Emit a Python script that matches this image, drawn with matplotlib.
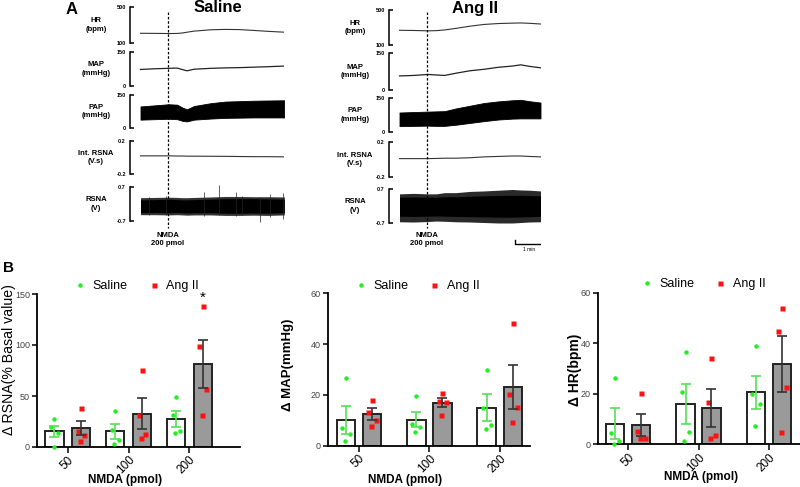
import matplotlib
matplotlib.use('Agg')
import matplotlib.pyplot as plt
from matplotlib.lines import Line2D

plt.rcParams['font.family'] = ['Liberation Sans', 'DejaVu Sans']

sal_t = [0, 0.5, 1.0, 1.3, 1.5, 1.65, 1.9, 2.5, 3.0, 3.5, 4.0, 4.5, 5.1]
sal_hr = [208, 207, 205, 206, 212, 220, 232, 247, 251, 249, 240, 230, 220]
sal_map = [73, 76, 78, 79, 72, 67, 74, 78, 80, 81, 83, 85, 88]
sal_pap_hi = [98, 103, 108, 106, 92, 85, 100, 113, 120, 122, 124, 125, 126]
sal_pap_lo = [38, 40, 42, 40, 32, 30, 38, 43, 46, 47, 48, 48, 48]
sal_int = [0.02, 0.02, 0.02, 0.018, 0.018, 0.016, 0.016, 0.015, 0.014, 0.012, 0.01, 0.01, 0.008]
sal_rsna_hi = [0.17, 0.18, 0.2, 0.18, 0.17, 0.17, 0.18, 0.2, 0.22, 0.22, 0.22, 0.21, 0.2]
sal_rsna_lo = [-0.36, -0.35, -0.36, -0.35, -0.36, -0.37, -0.36, -0.36, -0.38, -0.38, -0.37, -0.38, -0.36]
sal_rsna_out_hi = [0.26, 0.27, 0.28, 0.27, 0.26, 0.26, 0.27, 0.29, 0.31, 0.31, 0.3, 0.3, 0.29]
sal_rsna_out_lo = [-0.44, -0.44, -0.45, -0.44, -0.45, -0.46, -0.45, -0.45, -0.47, -0.47, -0.46, -0.47, -0.45]
sal_spike_t = [0.3, 0.9, 2.25, 2.8, 3.4, 3.6, 4.25, 4.6, 5.05]
sal_spike_top = [0.3, 0.32, 0.5, 0.78, 0.5, 0.35, 0.3, 0.4, 0.45]
sal_spike_bot = [-0.45, -0.45, -0.5, -0.45, -0.5, -0.45, -0.73, -0.55, -0.6]

ang_t = [0, 0.5, 1.0, 1.3, 1.6, 2.0, 2.5, 3.0, 3.5, 4.0, 4.3, 4.6, 5.0]
ang_hr = [268, 266, 262, 264, 272, 290, 315, 335, 345, 350, 352, 348, 340]
ang_map = [57, 59, 63, 61, 59, 68, 78, 84, 92, 97, 102, 96, 90]
ang_pap_hi = [86, 88, 90, 91, 92, 104, 116, 128, 135, 140, 142, 136, 130]
ang_pap_lo = [26, 27, 28, 27, 27, 32, 40, 48, 55, 59, 60, 60, 60]
ang_int = [0.01, 0.01, 0.01, 0.012, 0.015, 0.015, 0.02, 0.03, 0.035, 0.04, 0.04, 0.035, 0.03]
ang_rsna_hi = [0.36, 0.37, 0.36, 0.36, 0.38, 0.38, 0.4, 0.42, 0.43, 0.44, 0.44, 0.43, 0.42]
ang_rsna_lo = [-0.42, -0.43, -0.42, -0.41, -0.42, -0.43, -0.44, -0.45, -0.46, -0.46, -0.45, -0.44, -0.43]
ang_rsna_out_hi = [0.5, 0.52, 0.5, 0.5, 0.55, 0.55, 0.6, 0.62, 0.65, 0.68, 0.66, 0.65, 0.62]
ang_rsna_out_lo = [-0.65, -0.66, -0.64, -0.62, -0.63, -0.65, -0.66, -0.68, -0.7, -0.7, -0.68, -0.66, -0.65]

nmda_t = 0.96
channel_names = ['HR\n(bpm)', 'MAP\n(mmHg)', 'PAP\n(mmHg)', 'Int. RSNA\n(V.s)', 'RSNA\n(V)']
channel_lims = [(100, 500), (0, 150), (0, 150), (-0.2, 0.2), (-0.7, 0.7)]
channel_ticks = [('100', '500'), ('0', '150'), ('0', '150'), ('-0.2', '0.2'), ('-0.7', '0.7')]

# ---- panel B: group data ----
doses = ['50', '100', '200']

rsna_sal_mean = [15.2, 15.5, 27.7]
rsna_sal_sem = [5.8, 7.3, 8.0]
rsna_sal_pts = [[27.4, 19.8, 13.5, 0.3], [35.6, 16.5, 6.6, 3.0], [49.0, 31.7, 15.5, 13.5]]
rsna_ang_mean = [18.5, 32.6, 81.4]
rsna_ang_sem = [6.7, 15.2, 23.6]
rsna_ang_pts = [[38.0, 15.8, 12.2, 6.3], [75.8, 31.7, 13.2, 9.2], [138.0, 99.0, 56.4, 31.5]]

map_sal_mean = [10.0, 10.2, 15.0]
map_sal_sem = [5.5, 3.0, 5.3]
map_sal_pts = [[26.5, 6.8, 4.5, 1.8], [19.6, 8.5, 7.3, 5.5], [29.8, 14.8, 8.0, 6.4]]
map_ang_mean = [12.5, 17.0, 23.2]
map_ang_sem = [2.2, 1.6, 8.6]
map_ang_pts = [[18.0, 13.4, 10.2, 7.9], [20.6, 17.7, 17.3, 12.2], [48.2, 20.3, 15.2, 9.2]]

hr_sal_mean = [8.2, 16.0, 20.6]
hr_sal_sem = [6.0, 8.0, 6.6]
hr_sal_pts = [[26.4, 4.4, 1.3, 0.0], [36.7, 20.6, 4.7, 1.2], [38.8, 19.9, 16.0, 7.4]]
hr_ang_mean = [7.5, 14.4, 31.7]
hr_ang_sem = [4.3, 7.4, 11.0]
hr_ang_pts = [[20.3, 5.4, 2.5, 2.5], [34.3, 16.9, 3.7, 2.6], [53.8, 45.0, 22.7, 4.9]]

W, H = 800, 487
PX_PER_MIN = 28.2
fig = plt.figure(figsize=(W / 100, H / 100), dpi=100)


def px_axes(left, top, right, bottom):
    return fig.add_axes([left / W, 1 - bottom / H, (right - left) / W, (bottom - top) / H])


def px_text(x, y, s, **kw):
    fig.text(x / W, 1 - y / H, s, **kw)


def draw_column(bracket_x, end_x, rows, t, hr, mp, pap_hi, pap_lo, integ,
                rsna_hi, rsna_lo, rsna_out_hi, rsna_out_lo, out_color):
    start_x = bracket_x + 10.5
    xlim = (-(start_x - bracket_x) / PX_PER_MIN, (end_x - start_x) / PX_PER_MIN)
    axes = []
    for (top, bot), name, lims, tl in zip(rows, channel_names, channel_lims, channel_ticks):
        ax = px_axes(bracket_x, top, end_x, bot)
        ax.set_xlim(*xlim)
        ax.set_ylim(*lims)
        for s in ['top', 'right', 'bottom']:
            ax.spines[s].set_visible(False)
        ax.spines['left'].set_linewidth(1.1)
        ax.set_xticks([])
        ax.set_yticks(list(lims))
        ax.set_yticklabels(tl, fontsize=4, fontweight='bold')
        ax.tick_params(axis='y', direction='in', length=3, width=1.1, pad=3)
        ax.patch.set_alpha(0)
        px_text(bracket_x - 34, (top + bot) / 2, name, ha='center', va='center',
                fontsize=5.5, fontweight='bold', linespacing=1.3)
        axes.append(ax)
    axes[0].plot(t, hr, color='#333333', lw=0.8)
    axes[1].plot(t, mp, color='#222222', lw=0.9)
    axes[2].fill_between(t, pap_lo, pap_hi, color='black', lw=0.6)
    axes[3].plot(t, integ, color='#333333', lw=0.8)
    axes[4].fill_between(t, rsna_out_lo, rsna_out_hi, color=out_color, lw=0)
    axes[4].fill_between(t, rsna_lo, rsna_hi, color='black', lw=0)

    # overlay for marker line and labels (y in pixels)
    ov = px_axes(bracket_x, 0, end_x, 260)
    ov.set_xlim(*xlim)
    ov.set_ylim(260, 0)
    ov.axis('off')
    ov.plot([nmda_t, nmda_t], [12, 228], color='black', lw=0.9, ls=(0, (2, 1.5)))
    ov.text(nmda_t, 239.5, 'NMDA\n200 pmol', ha='center', va='center',
            fontsize=5.5, fontweight='bold', linespacing=1.15)
    return axes, ov


sal_rows = [(7, 43), (52, 86), (95, 128), (141, 174), (187, 221)]
ang_rows = [(10, 45), (53, 90), (98, 132), (142, 177), (189, 223)]

sal_axes, sal_ov = draw_column(130, 284, sal_rows, sal_t, sal_hr, sal_map, sal_pap_hi, sal_pap_lo,
                               sal_int, sal_rsna_hi, sal_rsna_lo, sal_rsna_out_hi, sal_rsna_out_lo,
                               '#333333')
sal_axes[4].vlines(sal_spike_t, sal_spike_bot, sal_spike_top, color='#222222', lw=0.5, clip_on=False)

ang_axes, ang_ov = draw_column(389, 541, ang_rows, ang_t, ang_hr, ang_map, ang_pap_hi, ang_pap_lo,
                               ang_int, ang_rsna_hi, ang_rsna_lo, ang_rsna_out_hi, ang_rsna_out_lo,
                               '#2a2a2a')
# 1 min scale bar
ang_ov.plot([4.08, 4.08, 5.08, 5.08], [240, 243.5, 243.5, 240], color='black', lw=1)
ang_ov.text(4.58, 249.5, '1 min', ha='center', va='center', fontsize=3.5)

px_text(72, 9, 'A', ha='center', va='center', fontsize=12, fontweight='bold')
px_text(218, 8, 'Saline', ha='center', va='center', fontsize=12, fontweight='bold')
px_text(475, 8, 'Ang II', ha='center', va='center', fontsize=12, fontweight='bold')
px_text(8, 268, 'B', ha='center', va='center', fontsize=11, fontweight='bold')

# ---- panel B ----
jitter = [0.0, -0.055, 0.055, -0.015]
sal_green = '#22ee22'
sal_err = '#55e055'
ang_red = '#ff1111'


def draw_bars(ax, xlim, off, width, ymax, yticks,
              s_mean, s_sem, s_pts, a_mean, a_sem, a_pts, legend_xy):
    x = range(len(doses))
    xs = [i - off for i in x]
    xa = [i + off for i in x]
    ax.bar(xs, s_mean, width, color='white', edgecolor='#222222', lw=1.4, zorder=2)
    ax.bar(xa, a_mean, width, color='#9a9a9a', edgecolor='#222222', lw=1.4, zorder=2)
    for i in x:
        ax.plot([xs[i] + j for j in jitter], s_pts[i], 'o', color=sal_green, ms=3.2,
                mec='none', zorder=3, clip_on=False)
        ax.plot([xa[i] + j for j in jitter], a_pts[i], 's', color=ang_red, ms=3.6,
                mec='none', zorder=3, clip_on=False)
    ax.errorbar(xs, s_mean, yerr=s_sem, fmt='none', ecolor=sal_err, elinewidth=1.2,
                capsize=3.6, capthick=1.2, zorder=4)
    ax.errorbar(xa, a_mean, yerr=a_sem, fmt='none', ecolor='#333333', elinewidth=1.2,
                capsize=3.6, capthick=1.2, zorder=4)
    ax.set_xlim(*xlim)
    ax.set_ylim(0, ymax)
    ax.set_yticks(yticks)
    ax.set_xticks(list(x))
    ax.set_xticklabels(doses, rotation=45, fontsize=8.5, ha='right', va='top',
                       rotation_mode='anchor')
    for s in ['top', 'right']:
        ax.spines[s].set_visible(False)
    for s in ['left', 'bottom']:
        ax.spines[s].set_linewidth(1.3)
    ax.tick_params(axis='y', labelsize=6.5, labelcolor='#444444', length=3.5, width=1.1, pad=1.5)
    ax.tick_params(axis='x', length=4, width=1.1, pad=1)
    ax.patch.set_alpha(0)
    h1 = Line2D([], [], marker='o', ls='none', color=sal_green, ms=3.2, mec='none')
    h2 = Line2D([], [], marker='s', ls='none', color=ang_red, ms=3.6, mec='none')
    ax.legend([h1, h2], ['Saline', 'Ang II'], ncol=2, frameon=False, fontsize=9,
              loc='center', bbox_to_anchor=legend_xy, handlelength=1.0,
              handletextpad=0.5, columnspacing=1.6, borderaxespad=0)
    return xs, xa


ax1 = px_axes(37, 294, 240, 447)
xs1, xa1 = draw_bars(ax1, (-0.505, 2.83), 0.218, 0.30, 150, [0, 50, 100, 150],
                     rsna_sal_mean, rsna_sal_sem, rsna_sal_pts,
                     rsna_ang_mean, rsna_ang_sem, rsna_ang_pts, (0.49, 1.05))
ax1.text(xa1[2], 146, '*', ha='center', va='center', fontsize=11)
px_text(9, 360, '\u0394 RSNA(% Basal value)', rotation=90, ha='center', va='center', fontsize=10.2)
px_text(125, 480, 'NMDA (pmol)', ha='center', va='center', fontsize=8.5, fontweight='bold')

ax2 = px_axes(328, 293.3, 530, 445.7)
draw_bars(ax2, (-0.44, 2.43), 0.185, 0.263, 60, [0, 20, 40, 60],
          map_sal_mean, map_sal_sem, map_sal_pts,
          map_ang_mean, map_ang_sem, map_ang_pts, (0.44, 1.048))
px_text(288, 365, '\u0394 MAP(mmHg)', rotation=90, ha='center', va='center',
        fontsize=9.5, fontweight='bold')
px_text(405, 480, 'NMDA (pmol)', ha='center', va='center', fontsize=8.5, fontweight='bold')

ax3 = px_axes(598, 292.7, 800, 444.3)
draw_bars(ax3, (-0.426, 2.44), 0.184, 0.262, 60, [0, 20, 40, 60],
          hr_sal_mean, hr_sal_sem, hr_sal_pts,
          hr_ang_mean, hr_ang_sem, hr_ang_pts, (0.52, 1.057))
px_text(575, 370, '\u0394 HR(bpm)', rotation=90, ha='center', va='center',
        fontsize=10, fontweight='bold')
px_text(701, 477, 'NMDA (pmol)', ha='center', va='center', fontsize=8.5, fontweight='bold')

fig.savefig('out.png', dpi=100)
